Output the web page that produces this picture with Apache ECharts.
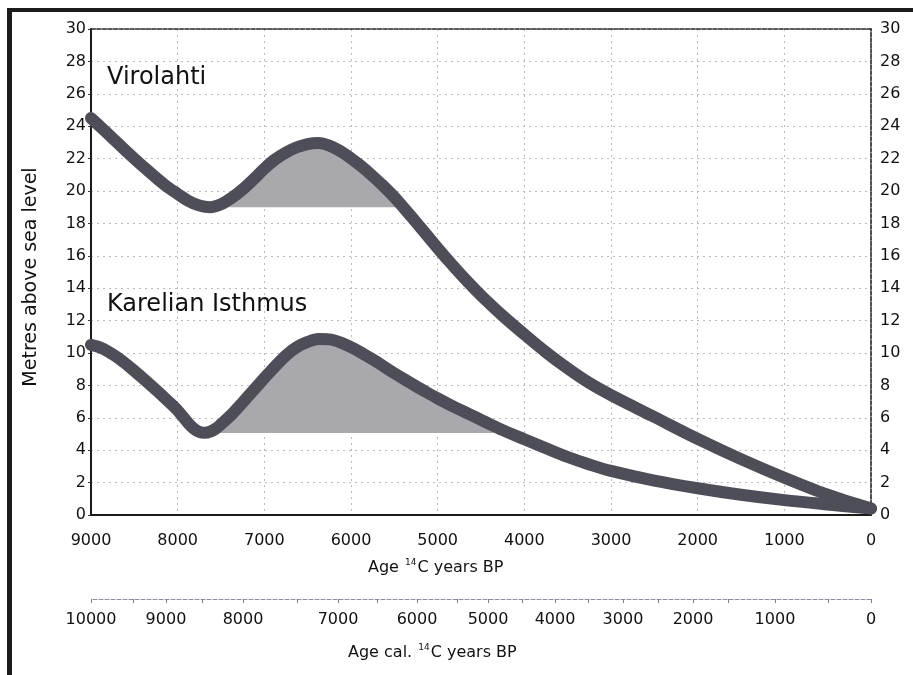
<!DOCTYPE html>
<html><head><meta charset="utf-8">
<script src="https://cdn.jsdelivr.net/npm/echarts@6/dist/echarts.min.js"></script>
<style>html,body{margin:0;padding:0;background:#fff}#c{width:913px;height:675px}</style>
</head><body><div id="c"></div>
<script>
// Age in 14C years BP (x) and metres above sea level (y)
const virolahtiAge = [9000, 8875, 8750, 8625, 8500, 8375, 8250, 8125, 8000, 7875, 7750, 7625, 7500, 7375, 7250, 7125, 7000, 6875, 6750, 6625, 6500, 6375, 6250, 6125, 6000, 5875, 5750, 5625, 5500, 5375, 5250, 5125, 5000, 4875, 4750, 4625, 4500, 4250, 4000, 3750, 3500, 3250, 3000, 2500, 2000, 1500, 1000, 500, 0];
const virolahtiM   = [24.5, 23.88, 23.25, 22.62, 22.0, 21.4, 20.82, 20.28, 19.82, 19.38, 19.1, 19.0, 19.18, 19.58, 20.1, 20.72, 21.38, 21.95, 22.38, 22.7, 22.9, 22.96, 22.8, 22.47, 22.02, 21.5, 20.92, 20.3, 19.62, 18.86, 18.08, 17.28, 16.48, 15.7, 14.95, 14.23, 13.55, 12.3, 11.15, 10.05, 9.05, 8.15, 7.4, 6.05, 4.7, 3.45, 2.3, 1.25, 0.4];
const karelianAge  = [9000, 8875, 8750, 8625, 8500, 8375, 8250, 8125, 8000, 7875, 7812, 7750, 7687, 7625, 7562, 7500, 7375, 7250, 7125, 7000, 6875, 6750, 6625, 6500, 6375, 6250, 6125, 6000, 5875, 5750, 5625, 5500, 5375, 5250, 5125, 5000, 4875, 4750, 4625, 4500, 4375, 4250, 4125, 4000, 3750, 3500, 3250, 3000, 2500, 2000, 1500, 1000, 500, 0];
const karelianM    = [10.5, 10.3, 9.92, 9.45, 8.9, 8.32, 7.72, 7.1, 6.45, 5.65, 5.33, 5.13, 5.07, 5.14, 5.32, 5.6, 6.22, 6.95, 7.7, 8.45, 9.18, 9.85, 10.36, 10.68, 10.86, 10.84, 10.66, 10.36, 10.0, 9.6, 9.18, 8.75, 8.35, 7.95, 7.57, 7.2, 6.85, 6.52, 6.2, 5.87, 5.55, 5.24, 4.95, 4.68, 4.12, 3.58, 3.12, 2.72, 2.12, 1.65, 1.25, 0.92, 0.65, 0.4];
// shaded humps: base level and age range
const virolahtiBase = 19.0, virolahtiHump = [7625, 5375];
const karelianBase = 5.06,  karelianHump  = [7750, 4125];
// calibrated age axis: labels and their 14C positions
const calLabels    = [10000, 9000, 8000, 7000, 6000, 5000, 4000, 3000, 2000, 1000, 0];
const calAt14C     = [9000, 8135, 7246, 6150, 5238, 4419, 3646, 2862, 2054, 1108, 0];
const calHalfAt14C = [8515, 7719, 6623, 5700, 4777, 4027, 3265, 2458, 1650, 496];

const FONT = 'DejaVu Sans';
const pairs = (xs, ys) => xs.map((x, i) => [x, ys[i]]);
const hump = (xs, ys, range, base) => xs.map((x, i) => [x, ys[i]])
  .filter(p => p[0] <= range[0] && p[0] >= range[1])
  .map(p => [p[0], Math.max(p[1], base)]);

const chart = echarts.init(document.getElementById('c'), null, {renderer: 'canvas'});
const axisText = {fontFamily: FONT, fontSize: 16, color: '#111'};
const sup = {
  n: {fontFamily: FONT, fontSize: 16, fontWeight: 'normal', color: '#111', lineHeight: 18, verticalAlign: 'bottom'},
  s: {fontFamily: FONT, fontSize: 9, fontWeight: 'normal', color: '#111', lineHeight: 18, verticalAlign: 'top', padding: [0, 1, 0, 1]}
};
const gridLine = {show: true, lineStyle: {color: '#b4bccb', type: [2, 4], width: 1}};
const SMOOTH = 0.33;

chart.setOption({
  animation: false,
  backgroundColor: '#fff',
  title: [
    {text: 'Virolahti', left: 107, top: 66, padding: 0, textStyle: {fontFamily: FONT, fontSize: 24, fontWeight: 'normal', color: '#111'}},
    {text: 'Karelian Isthmus', left: 107, top: 293, padding: 0, textStyle: {fontFamily: FONT, fontSize: 24, fontWeight: 'normal', color: '#111'}},
    {text: '{n|Age }{s|14}{n|C years BP}', left: 368, top: 558, padding: 0, textStyle: {fontWeight: 'normal', rich: sup}},
    {text: '{n|Age cal. }{s|14}{n|C years BP}', left: 348, top: 643, padding: 0, textStyle: {fontWeight: 'normal', rich: sup}}
  ],
  graphic: [
    {type: 'rect', shape: {x: 7, y: 8, width: 906, height: 4}, style: {fill: '#1c1c1c'}, silent: true},
    {type: 'rect', shape: {x: 7, y: 8, width: 5, height: 667}, style: {fill: '#1c1c1c'}, silent: true}
  ],
  grid: {left: 91, right: 42, top: 29, bottom: 160, containLabel: false},
  xAxis: [
    {
      type: 'value', min: 0, max: 9000, interval: 1000, inverse: true, position: 'bottom',
      axisLine: {show: true, onZero: false, lineStyle: {color: '#1a1a1a', width: 2}},
      axisTick: {show: false},
      axisLabel: Object.assign({margin: 18, formatter: v => String(v)}, axisText),
      splitLine: gridLine
    },
    {
      type: 'value', min: 0, max: 9000, inverse: true, position: 'bottom', offset: 84,
      axisLine: {show: true, onZero: false, lineStyle: {color: '#8a909c', type: [4, 2], width: 1}},
      axisTick: {show: true, customValues: calAt14C.concat(calHalfAt14C), length: 4, lineStyle: {color: '#7a808c'}},
      axisLabel: Object.assign({
        margin: 13,
        customValues: calAt14C,
        formatter: v => {
          const i = calAt14C.findIndex(p => Math.abs(p - v) < 0.5);
          return i >= 0 ? String(calLabels[i]) : '';
        }
      }, axisText),
      splitLine: {show: false}
    },
    {
      type: 'value', min: 0, max: 9000, inverse: true, position: 'top',
      axisLine: {show: true, onZero: false, lineStyle: {color: '#2a2a2a', type: [4, 1.5], width: 1.6}},
      axisTick: {show: false}, axisLabel: {show: false}, splitLine: {show: false}
    }
  ],
  yAxis: [
    {
      type: 'value', min: 0, max: 30, interval: 2, position: 'left',
      name: 'Metres above sea level', nameLocation: 'middle', nameGap: 50,
      nameTextStyle: {fontFamily: FONT, fontSize: 19, color: '#111', padding: [0, 10, 0, 0]},
      axisLine: {show: true, onZero: false, lineStyle: {color: '#1a1a1a', width: 2}},
      axisTick: {show: true, length: 3, lineStyle: {color: '#333'}},
      axisLabel: Object.assign({margin: 5}, axisText),
      splitLine: gridLine
    },
    {
      type: 'value', min: 0, max: 30, interval: 2, position: 'right',
      axisLine: {show: true, onZero: false, lineStyle: {color: '#2a2a2a', type: [4, 1.5], width: 1.6}},
      axisTick: {show: false},
      axisLabel: Object.assign({margin: 9}, axisText),
      splitLine: {show: false}
    }
  ],
  series: [
    {
      name: 'Virolahti fill', type: 'line', xAxisIndex: 0, yAxisIndex: 0, z: 1, silent: true,
      data: hump(virolahtiAge, virolahtiM, virolahtiHump, virolahtiBase),
      smooth: SMOOTH, symbol: 'none', lineStyle: {width: 0},
      areaStyle: {color: '#a9a9ad', opacity: 1, origin: virolahtiBase}
    },
    {
      name: 'Karelian fill', type: 'line', xAxisIndex: 0, yAxisIndex: 0, z: 1, silent: true,
      data: hump(karelianAge, karelianM, karelianHump, karelianBase),
      smooth: SMOOTH, symbol: 'none', lineStyle: {width: 0},
      areaStyle: {color: '#a9a9ad', opacity: 1, origin: karelianBase}
    },
    {
      name: 'Virolahti', type: 'line', xAxisIndex: 0, yAxisIndex: 0, z: 3,
      data: pairs(virolahtiAge, virolahtiM),
      smooth: SMOOTH, symbol: 'none',
      lineStyle: {color: '#4d4e57', width: 12, cap: 'round', join: 'round'}
    },
    {
      name: 'Karelian Isthmus', type: 'line', xAxisIndex: 0, yAxisIndex: 0, z: 3,
      data: pairs(karelianAge, karelianM),
      smooth: SMOOTH, symbol: 'none',
      lineStyle: {color: '#4d4e57', width: 12, cap: 'round', join: 'round'}
    }
  ]
});
</script></body></html>
